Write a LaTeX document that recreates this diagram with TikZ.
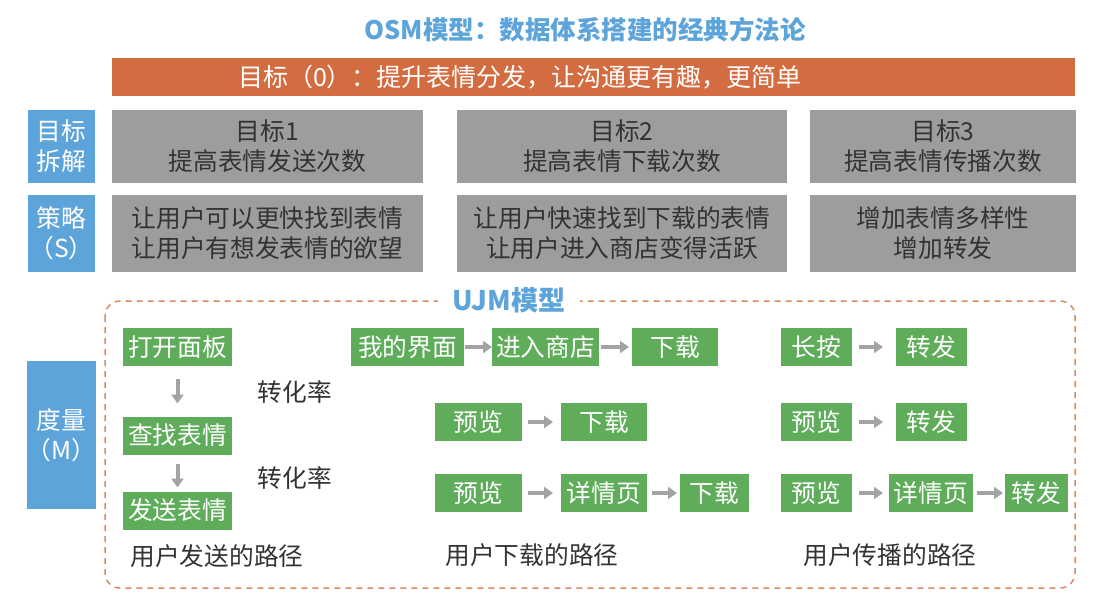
\documentclass[tikz,border=0pt]{standalone}
\usepackage{fontspec}
\setmainfont{Noto Sans CJK SC}
\usetikzlibrary{arrows.meta,positioning,calc}

\definecolor{osmblue}{HTML}{5CA4DA}
\definecolor{osmorange}{HTML}{D36D41}
\definecolor{dashorange}{HTML}{D98A5E}
\definecolor{boxgray}{HTML}{9D9D9F}
\definecolor{stagegreen}{HTML}{5FAD5A}
\definecolor{arrowgray}{HTML}{A3A3A5}
\definecolor{textdark}{HTML}{333333}

\begin{document}
\begin{tikzpicture}[
    x=1pt, y=-1pt,
    box/.style={rectangle, inner sep=0pt, outer sep=0pt, align=center, font=\fontsize{24.7}{30}\selectfont},
    side/.style={box, fill=osmblue, text=white, minimum width=67pt},
    goal/.style={box, fill=boxgray, text=textdark},
    stage/.style={box, fill=stagegreen, text=white, minimum height=38pt},
    edge/.style={-{Triangle[length=9pt,width=12pt]}, line width=4pt, draw=arrowgray, shorten <=2pt, shorten >=3pt},
    wide/.style={shorten <=6pt, shorten >=8pt},
    label/.style={font=\fontsize{24.7}{30}\selectfont, text=textdark},
    title/.style={font=\fontsize{25.5}{30}\selectfont\bfseries, text=osmblue},
]
\useasboundingbox (0,0) rectangle (1100,614);

\node[title] (title) at (585,30) {OSM模型：数据体系搭建的经典方法论};

% Objective bar
\node[box, fill=osmorange, minimum width=963pt, minimum height=38pt] (obj) at (593.5,77) {};
\node[box, text=white, font=\fontsize{25}{30}\selectfont, anchor=west] (objtext) at (238,77) {目标（0）：提升表情分发，让沟通更有趣，更简单};

% Side labels
\node[side, minimum height=73pt] (sidegoal) at (61.5,146.5) {目标\\拆解};
\node[side, minimum height=77pt] (sidestrat) at (61.5,233.5) {策略\\（S）};
\node[side, minimum height=148pt] (sidemeas) at (61.5,435) {度量\\（M）};

% Goals
\node[goal, minimum width=311pt, minimum height=73pt] (goal1) at (267.5,146.5) {目标1\\提高表情发送次数};
\node[goal, minimum width=330pt, minimum height=73pt] (goal2) at (622,146.5) {目标2\\提高表情下载次数};
\node[goal, minimum width=266pt, minimum height=73pt] (goal3) at (943,146.5) {目标3\\提高表情传播次数};

% Strategies
\node[goal, minimum width=311pt, minimum height=77pt] (strat1) at (267.5,233.5) {让用户可以更快找到表情\\让用户有想发表情的欲望};
\node[goal, minimum width=330pt, minimum height=77pt] (strat2) at (622,233.5) {让用户快速找到下载的表情\\让用户进入商店变得活跃};
\node[goal, minimum width=266pt, minimum height=77pt] (strat3) at (943,233.5) {增加表情多样性\\增加转发};

% UJM frame
\draw[dashorange, line width=1.5pt, dash pattern=on 6pt off 5pt, rounded corners=15pt] (105,301) rectangle (1075,588);
\node[font=\fontsize{27}{30}\selectfont\bfseries, text=osmblue, fill=white, inner xsep=15pt, inner ysep=2pt] (ujm) at (509,300) {UJM模型};

% Send path
\node[stage, minimum width=109pt] (open) at (177.5,347) {打开面板};
\node[stage, minimum width=109pt] (find) at (177.5,435.5) {查找表情};
\node[stage, minimum width=109pt] (send) at (177.5,510.5) {发送表情};
\draw[edge, shorten <=13pt, shorten >=13pt] (open) -- (find);
\draw[edge, shorten <=9pt, shorten >=4pt] (find) -- (send);
\node[label] (rate1) at (295,392) {转化率};
\node[label] (rate2) at (295,478) {转化率};

% Download path
\node[stage, minimum width=113pt] (mine) at (407.5,347) {我的界面};
\node[stage, minimum width=107pt] (shop) at (545.5,347) {进入商店};
\node[stage, minimum width=86pt] (dl1) at (675,347) {下载};
\node[stage, minimum width=87pt] (pv1) at (478.5,422) {预览};
\node[stage, minimum width=86pt] (dl2) at (604,422) {下载};
\node[stage, minimum width=87pt] (pv2) at (478.5,493) {预览};
\node[stage, minimum width=86pt] (det1) at (604,493) {详情页};
\node[stage, minimum width=69pt] (dl3) at (714.5,493) {下载};
\draw[edge, shorten <=1pt, shorten >=0pt] (mine) -- (shop);
\draw[edge] (shop) -- (dl1);
\draw[edge, wide] (pv1) -- (dl2);
\draw[edge, wide] (pv2) -- (det1);
\draw[edge, shorten <=5pt] (det1) -- (dl3);

% Share path
\node[stage, minimum width=71pt] (press) at (816.5,347) {长按};
\node[stage, minimum width=71pt] (fwd1) at (931.5,347) {转发};
\node[stage, minimum width=71pt] (pv3) at (816.5,422) {预览};
\node[stage, minimum width=71pt] (fwd2) at (931.5,422) {转发};
\node[stage, minimum width=71pt] (pv4) at (816.5,493) {预览};
\node[stage, minimum width=84pt] (det2) at (931,493) {详情页};
\node[stage, minimum width=63pt] (fwd3) at (1036.5,493) {转发};
\draw[edge, shorten <=7pt, shorten >=13pt] (press) -- (fwd1);
\draw[edge, shorten <=7pt, shorten >=13pt] (pv3) -- (fwd2);
\draw[edge, shorten <=7pt, shorten >=6pt] (pv4) -- (det2);
\draw[edge, shorten <=4pt, shorten >=2pt] (det2) -- (fwd3);

% Path captions
\node[label, anchor=west] (cap1) at (127,556) {用户发送的路径};
\node[label, anchor=west] (cap2) at (442,555) {用户下载的路径};
\node[label, anchor=west] (cap3) at (800,555) {用户传播的路径};

\end{tikzpicture}
\end{document}
